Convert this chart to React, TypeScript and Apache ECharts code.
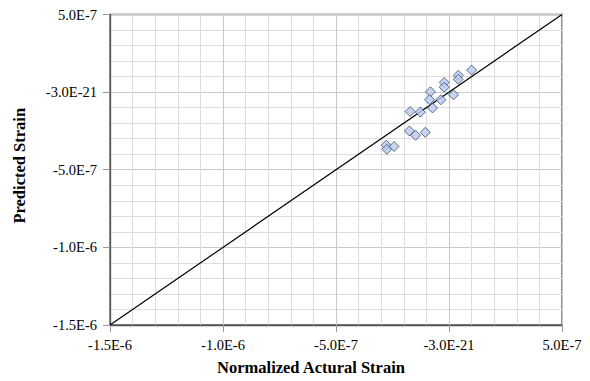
import React, { useEffect, useRef } from "react";
import * as echarts from "echarts";

const tickLabels = ["-1.5E-6", "-1.0E-6", "-5.0E-7", "-3.0E-21", "5.0E-7"];
const actualStrain = [
  1.0e-7, 4.1e-8, 4.1e-8, -2.1e-8, -2.1e-8, 2.0e-8, -8.2e-8, -8.6e-8, -3.6e-8,
  -7.3e-8, -1.27e-7, -1.72e-7, -1.75e-7, -1.48e-7, -1.05e-7, -2.78e-7, -2.75e-7, -2.43e-7,
];
const predictedStrain = [
  1.42e-7, 1.08e-7, 8.3e-8, 6.2e-8, 3.2e-8, -1.7e-8, 2e-9, -4.9e-8, -4.9e-8,
  -1.02e-7, -1.29e-7, -1.25e-7, -2.5e-7, -2.78e-7, -2.59e-7, -3.42e-7, -3.68e-7, -3.5e-7,
];
const lineX = [-1.5e-6, 5e-7];
const lineY = [-1.5e-6, 5e-7];
const xTitle = "Normalized Actural Strain";
const yTitle = "Predicted Strain";

export default function App() {
  const ref = useRef<HTMLDivElement>(null);
  useEffect(() => {
    if (!ref.current) return;
    const chart = echarts.init(ref.current, null, { renderer: "svg" });
    const font = "'Liberation Serif', 'Times New Roman', serif";
    const axisCommon = (margin: number) => ({
      type: "value" as const,
      min: -1.5e-6,
      max: 5e-7,
      interval: 5e-7,
      nameLocation: "middle" as const,
      axisLine: { show: true, onZero: false, lineStyle: { color: "#555", width: 1.3 } },
      axisTick: { show: true, length: 7, inside: false, lineStyle: { color: "#999" } },
      axisLabel: {
        fontFamily: font,
        fontSize: 14.5,
        color: "#000",
        margin,
        formatter: (_v: number, i: number) => tickLabels[i],
      },
      splitLine: { show: true, lineStyle: { color: "#c8c8c8", width: 1 } },
      minorTick: { show: false, splitNumber: 5 },
      minorSplitLine: { show: true, lineStyle: { color: "#dddddd", width: 1 } },
    });
    chart.setOption({
      animation: false,
      grid: {
        left: 110,
        right: 28,
        top: 14.5,
        bottom: 53,
        show: true,
        borderColor: "#555",
        borderWidth: 1.3,
        backgroundColor: "transparent",
      },
      xAxis: {
        ...axisCommon(12),
        name: xTitle,
        nameGap: 34,
        nameTextStyle: {
          fontFamily: font,
          fontWeight: "bold",
          fontSize: 16.5,
          color: "#000",
          padding: [0, 50, 0, 0],
        },
      },
      yAxis: {
        ...axisCommon(13),
        name: yTitle,
        nameGap: 82,
        nameTextStyle: {
          fontFamily: font,
          fontWeight: "bold",
          fontSize: 16.5,
          color: "#000",
          padding: [0, 0, 0, 8],
        },
      },
      series: [
        {
          type: "line",
          data: lineX.map((x, i) => [x, lineY[i]]),
          symbol: "none",
          lineStyle: { color: "#000", width: 1.2 },
          z: 2,
        },
        {
          type: "scatter",
          data: actualStrain.map((x, i) => [x, predictedStrain[i]]),
          symbol: "diamond",
          symbolSize: 10,
          itemStyle: { color: "#b8cbee", borderColor: "#2c3a5c", borderWidth: 0.9 },
          z: 3,
        },
      ],
    });
    return () => chart.dispose();
  }, []);
  return <div ref={ref} style={{ width: 590, height: 381, margin: -8 }} />;
}
